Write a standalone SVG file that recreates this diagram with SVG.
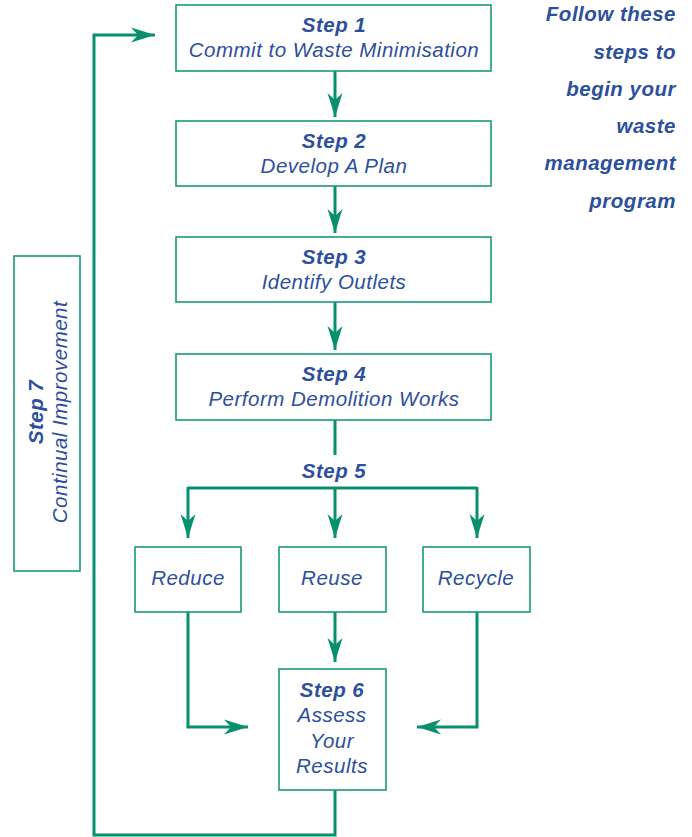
<svg xmlns="http://www.w3.org/2000/svg" width="692" height="837" viewBox="0 0 692 837">
<style>
.box{fill:#fff;stroke:#1a9a7a;stroke-width:1.6}
.c{fill:none;stroke:#08906e;stroke-width:3}
.t{font-family:"Liberation Sans",Arial,sans-serif;font-style:italic;fill:#2c4f9e;font-size:20.5px;letter-spacing:0.5px;text-anchor:middle}
.b{font-weight:bold}
.r{text-anchor:end;font-weight:bold}
</style>
<defs>
<marker id="ah" markerUnits="userSpaceOnUse" markerWidth="30" markerHeight="20" viewBox="-24 -10 26 20" refX="0" refY="0" orient="auto">
<path d="M0,0 L-24,-7.5 L-17,0 L-24,7.5 Z" fill="#08906e"/>
</marker>
</defs>
<rect width="692" height="837" fill="#fff"/>
<g id="connectors">
<line class="c" x1="335" y1="71" x2="335" y2="117" marker-end="url(#ah)"/>
<line class="c" x1="335" y1="186" x2="335" y2="233" marker-end="url(#ah)"/>
<line class="c" x1="335" y1="302" x2="335" y2="350" marker-end="url(#ah)"/>
<line class="c" x1="335" y1="420" x2="335" y2="455"/>
<line class="c" x1="188" y1="488" x2="477" y2="488"/>
<line class="c" x1="188" y1="487" x2="188" y2="538" marker-end="url(#ah)"/>
<line class="c" x1="335" y1="487" x2="335" y2="538" marker-end="url(#ah)"/>
<line class="c" x1="477" y1="487" x2="477" y2="538" marker-end="url(#ah)"/>
<line class="c" x1="335" y1="612" x2="335" y2="662" marker-end="url(#ah)"/>
<polyline class="c" points="188,612 188,727 248,727" marker-end="url(#ah)"/>
<polyline class="c" points="477,612 477,727 417,727" marker-end="url(#ah)"/>
<polyline class="c" points="335,790 335,835 94,835 94,35 155,35" marker-end="url(#ah)"/>
</g>
<g id="step1">
<rect class="box" x="176" y="5" width="315" height="66"/>
<text class="t b" x="334" y="32">Step 1</text>
<text class="t" x="334" y="57">Commit to Waste Minimisation</text>
</g>
<g id="step2">
<rect class="box" x="176" y="121" width="315" height="65"/>
<text class="t b" x="334" y="148">Step 2</text>
<text class="t" x="334" y="173">Develop A Plan</text>
</g>
<g id="step3">
<rect class="box" x="176" y="237" width="315" height="65"/>
<text class="t b" x="334" y="264">Step 3</text>
<text class="t" x="334" y="289">Identify Outlets</text>
</g>
<g id="step4">
<rect class="box" x="176" y="354" width="315" height="66"/>
<text class="t b" x="334" y="381">Step 4</text>
<text class="t" x="334" y="406">Perform Demolition Works</text>
</g>
<g id="step5">
<text class="t b" x="334" y="478">Step 5</text>
</g>
<g id="reduce">
<rect class="box" x="135" y="547" width="106" height="65"/>
<text class="t" x="188" y="585">Reduce</text>
</g>
<g id="reuse">
<rect class="box" x="279" y="547" width="107" height="65"/>
<text class="t" x="332" y="585">Reuse</text>
</g>
<g id="recycle">
<rect class="box" x="423" y="547" width="107" height="65"/>
<text class="t" x="476" y="585">Recycle</text>
</g>
<g id="step6">
<rect class="box" x="279" y="669" width="107" height="121"/>
<text class="t b" x="332" y="697">Step 6</text>
<text class="t" x="332" y="722">Assess</text>
<text class="t" x="332" y="748">Your</text>
<text class="t" x="332" y="773">Results</text>
</g>
<g id="step7">
<rect class="box" x="14" y="256" width="66" height="315"/>
<text class="t b" transform="translate(43,412) rotate(-90)">Step 7</text>
<text class="t" transform="translate(67,412) rotate(-90)">Continual Improvement</text>
</g>
<g id="intro">
<text class="t r" x="676" y="21">Follow these</text>
<text class="t r" x="676" y="59">steps to</text>
<text class="t r" x="676" y="96">begin your</text>
<text class="t r" x="676" y="133">waste</text>
<text class="t r" x="676" y="170">management</text>
<text class="t r" x="676" y="208">program</text>
</g>
</svg>
